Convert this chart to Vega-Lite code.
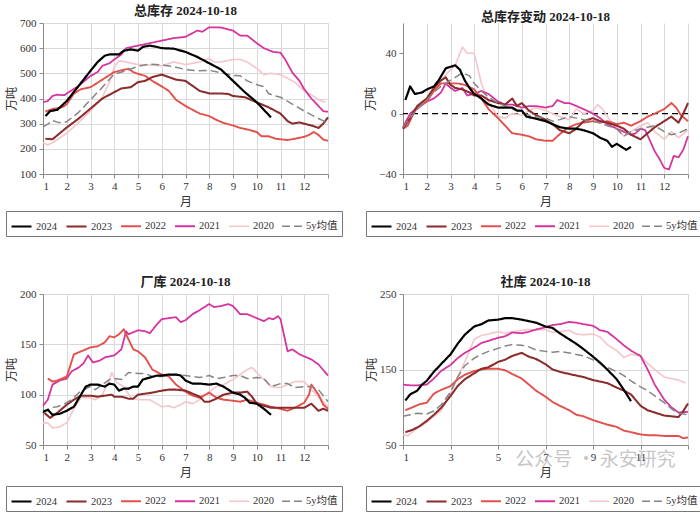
{
"$schema":"https://vega.github.io/schema/vega-lite/v6.json",
"background":"white",
"padding":{"left":5,"top":5,"right":5,"bottom":5},
"columns":2,
"bounds":"flush",
"spacing":{"row":120,"column":75},
"resolve":{"scale":{"color":"independent","strokeDash":"independent","strokeWidth":"independent","x":"independent","y":"independent"},"legend":{"color":"independent","strokeDash":"independent","strokeWidth":"independent"}},
"config":{
"font":"Liberation Serif, Noto Sans CJK SC",
"view":{"stroke":null},
"axis":{"gridColor":"#d9d9d9","domainColor":"#8a8a8a","tickColor":"#8a8a8a","tickSize":4,"labelFont":"Liberation Serif","labelFontSize":11,"labelColor":"#333","titleFont":"Liberation Serif, Noto Sans CJK SC","titleFontWeight":"normal","titleFontSize":12,"titleColor":"#333"},
"axisX":{"labelPadding":2,"titlePadding":5},
"axisY":{"titlePadding":1,"labelPadding":3},
"title":{"font":"Liberation Serif, Noto Sans CJK SC","fontSize":13,"fontWeight":"bold","offset":-1,"color":"#222"},
"legend":{"symbolType":"stroke","symbolSize":400,"labelFont":"Liberation Serif, Noto Sans CJK SC","labelFontSize":10.5,"labelColor":"#333","labelOffset":3,"columnPadding":5,"strokeColor":"#777","padding":4}
},
"datasets":{
"p1":[
{"m":1.0,"s":"2020","v":225},{"m":1.2,"s":"2020","v":215},{"m":1.5,"s":"2020","v":230},{"m":2.0,"s":"2020","v":262},{"m":2.5,"s":"2020","v":305},{"m":3.0,"s":"2020","v":350},{"m":3.5,"s":"2020","v":405},{"m":3.8,"s":"2020","v":465},{"m":4.0,"s":"2020","v":525},{"m":4.2,"s":"2020","v":550},{"m":4.5,"s":"2020","v":545},{"m":5.0,"s":"2020","v":535},{"m":5.5,"s":"2020","v":533},{"m":6.0,"s":"2020","v":530},{"m":6.5,"s":"2020","v":545},{"m":7.0,"s":"2020","v":535},{"m":7.3,"s":"2020","v":540},{"m":7.6,"s":"2020","v":545},{"m":8.0,"s":"2020","v":560},{"m":8.2,"s":"2020","v":545},{"m":8.5,"s":"2020","v":545},{"m":9.0,"s":"2020","v":555},{"m":9.3,"s":"2020","v":555},{"m":9.6,"s":"2020","v":545},{"m":10.0,"s":"2020","v":520},{"m":10.3,"s":"2020","v":495},{"m":10.6,"s":"2020","v":500},{"m":11.0,"s":"2020","v":495},{"m":11.3,"s":"2020","v":480},{"m":11.6,"s":"2020","v":465},{"m":12.0,"s":"2020","v":430},{"m":12.3,"s":"2020","v":415},{"m":12.6,"s":"2020","v":395},{"m":12.9,"s":"2020","v":385},
{"m":1.0,"s":"2021","v":385},{"m":1.2,"s":"2021","v":390},{"m":1.4,"s":"2021","v":410},{"m":1.6,"s":"2021","v":415},{"m":1.9,"s":"2021","v":413},{"m":2.0,"s":"2021","v":420},{"m":2.5,"s":"2021","v":450},{"m":3.0,"s":"2021","v":490},{"m":3.3,"s":"2021","v":505},{"m":3.5,"s":"2021","v":530},{"m":3.8,"s":"2021","v":540},{"m":4.0,"s":"2021","v":555},{"m":4.3,"s":"2021","v":575},{"m":4.5,"s":"2021","v":600},{"m":5.0,"s":"2021","v":610},{"m":5.5,"s":"2021","v":620},{"m":6.0,"s":"2021","v":630},{"m":6.5,"s":"2021","v":640},{"m":7.0,"s":"2021","v":645},{"m":7.5,"s":"2021","v":670},{"m":7.7,"s":"2021","v":665},{"m":8.0,"s":"2021","v":683},{"m":8.5,"s":"2021","v":682},{"m":9.0,"s":"2021","v":670},{"m":9.3,"s":"2021","v":650},{"m":9.6,"s":"2021","v":650},{"m":10.0,"s":"2021","v":620},{"m":10.3,"s":"2021","v":600},{"m":10.7,"s":"2021","v":585},{"m":11.0,"s":"2021","v":582},{"m":11.2,"s":"2021","v":555},{"m":11.5,"s":"2021","v":503},{"m":11.8,"s":"2021","v":470},{"m":12.0,"s":"2021","v":437},{"m":12.3,"s":"2021","v":400},{"m":12.6,"s":"2021","v":370},{"m":12.8,"s":"2021","v":350},{"m":13.0,"s":"2021","v":347},
{"m":1.1,"s":"2022","v":348},{"m":1.4,"s":"2022","v":358},{"m":1.8,"s":"2022","v":365},{"m":2.0,"s":"2022","v":377},{"m":2.3,"s":"2022","v":420},{"m":2.6,"s":"2022","v":437},{"m":3.0,"s":"2022","v":445},{"m":3.5,"s":"2022","v":475},{"m":4.0,"s":"2022","v":505},{"m":4.3,"s":"2022","v":512},{"m":4.6,"s":"2022","v":518},{"m":4.8,"s":"2022","v":505},{"m":5.0,"s":"2022","v":498},{"m":5.3,"s":"2022","v":490},{"m":5.6,"s":"2022","v":470},{"m":6.0,"s":"2022","v":448},{"m":6.3,"s":"2022","v":430},{"m":6.6,"s":"2022","v":395},{"m":7.0,"s":"2022","v":370},{"m":7.3,"s":"2022","v":355},{"m":7.6,"s":"2022","v":340},{"m":8.0,"s":"2022","v":330},{"m":8.3,"s":"2022","v":315},{"m":8.6,"s":"2022","v":303},{"m":9.0,"s":"2022","v":293},{"m":9.3,"s":"2022","v":283},{"m":9.6,"s":"2022","v":277},{"m":10.0,"s":"2022","v":267},{"m":10.2,"s":"2022","v":250},{"m":10.5,"s":"2022","v":250},{"m":10.8,"s":"2022","v":240},{"m":11.0,"s":"2022","v":238},{"m":11.3,"s":"2022","v":235},{"m":11.6,"s":"2022","v":240},{"m":12.0,"s":"2022","v":248},{"m":12.2,"s":"2022","v":255},{"m":12.4,"s":"2022","v":267},{"m":12.6,"s":"2022","v":255},{"m":12.8,"s":"2022","v":237},{"m":13.0,"s":"2022","v":232},
{"m":1.1,"s":"2023","v":240},{"m":1.4,"s":"2023","v":238},{"m":2.0,"s":"2023","v":285},{"m":2.5,"s":"2023","v":320},{"m":3.0,"s":"2023","v":360},{"m":3.5,"s":"2023","v":400},{"m":4.0,"s":"2023","v":425},{"m":4.3,"s":"2023","v":440},{"m":4.7,"s":"2023","v":445},{"m":5.0,"s":"2023","v":465},{"m":5.3,"s":"2023","v":470},{"m":5.6,"s":"2023","v":485},{"m":6.0,"s":"2023","v":495},{"m":6.3,"s":"2023","v":485},{"m":6.6,"s":"2023","v":475},{"m":7.0,"s":"2023","v":470},{"m":7.3,"s":"2023","v":450},{"m":7.6,"s":"2023","v":430},{"m":8.0,"s":"2023","v":420},{"m":8.5,"s":"2023","v":420},{"m":8.8,"s":"2023","v":418},{"m":9.0,"s":"2023","v":410},{"m":9.5,"s":"2023","v":405},{"m":10.0,"s":"2023","v":385},{"m":10.5,"s":"2023","v":365},{"m":11.0,"s":"2023","v":340},{"m":11.3,"s":"2023","v":310},{"m":11.5,"s":"2023","v":300},{"m":11.8,"s":"2023","v":305},{"m":12.0,"s":"2023","v":300},{"m":12.3,"s":"2023","v":293},{"m":12.6,"s":"2023","v":283},{"m":12.8,"s":"2023","v":300},{"m":13.0,"s":"2023","v":325},
{"m":1.0,"s":"5y均值","v":287},{"m":1.2,"s":"5y均值","v":298},{"m":1.4,"s":"5y均值","v":312},{"m":1.6,"s":"5y均值","v":306},{"m":1.8,"s":"5y均值","v":303},{"m":2.0,"s":"5y均值","v":308},{"m":2.5,"s":"5y均值","v":345},{"m":3.0,"s":"5y均值","v":395},{"m":3.5,"s":"5y均值","v":445},{"m":4.0,"s":"5y均值","v":497},{"m":4.5,"s":"5y均值","v":510},{"m":5.0,"s":"5y均值","v":528},{"m":5.5,"s":"5y均值","v":537},{"m":6.0,"s":"5y均值","v":533},{"m":6.5,"s":"5y均值","v":527},{"m":7.0,"s":"5y均值","v":515},{"m":7.5,"s":"5y均值","v":510},{"m":8.0,"s":"5y均值","v":512},{"m":8.5,"s":"5y均值","v":502},{"m":9.0,"s":"5y均值","v":492},{"m":9.3,"s":"5y均值","v":490},{"m":9.6,"s":"5y均值","v":470},{"m":10.0,"s":"5y均值","v":455},{"m":10.3,"s":"5y均值","v":447},{"m":10.5,"s":"5y均值","v":420},{"m":10.7,"s":"5y均值","v":412},{"m":11.0,"s":"5y均值","v":405},{"m":11.5,"s":"5y均值","v":378},{"m":12.0,"s":"5y均值","v":350},{"m":12.5,"s":"5y均值","v":325},{"m":13.0,"s":"5y均值","v":303},
{"m":1.1,"s":"2024","v":330},{"m":1.3,"s":"2024","v":350},{"m":1.6,"s":"2024","v":355},{"m":2.0,"s":"2024","v":390},{"m":2.5,"s":"2024","v":450},{"m":3.0,"s":"2024","v":510},{"m":3.3,"s":"2024","v":545},{"m":3.6,"s":"2024","v":570},{"m":3.8,"s":"2024","v":575},{"m":4.0,"s":"2024","v":575},{"m":4.2,"s":"2024","v":575},{"m":4.4,"s":"2024","v":590},{"m":4.7,"s":"2024","v":595},{"m":5.0,"s":"2024","v":590},{"m":5.2,"s":"2024","v":605},{"m":5.5,"s":"2024","v":610},{"m":5.8,"s":"2024","v":605},{"m":6.0,"s":"2024","v":600},{"m":6.5,"s":"2024","v":598},{"m":7.0,"s":"2024","v":585},{"m":7.5,"s":"2024","v":565},{"m":8.0,"s":"2024","v":540},{"m":8.5,"s":"2024","v":515},{"m":9.0,"s":"2024","v":470},{"m":9.5,"s":"2024","v":425},{"m":10.0,"s":"2024","v":385},{"m":10.3,"s":"2024","v":355},{"m":10.6,"s":"2024","v":325}
],
"p2":[
{"m":1.0,"s":"2020","v":-10},{"m":1.3,"s":"2020","v":-2},{"m":1.6,"s":"2020","v":5},{"m":2.0,"s":"2020","v":10},{"m":2.3,"s":"2020","v":15},{"m":2.6,"s":"2020","v":22},{"m":2.8,"s":"2020","v":26},{"m":3.0,"s":"2020","v":29},{"m":3.2,"s":"2020","v":32},{"m":3.4,"s":"2020","v":40},{"m":3.5,"s":"2020","v":44},{"m":3.7,"s":"2020","v":40},{"m":4.0,"s":"2020","v":40},{"m":4.3,"s":"2020","v":20},{"m":4.6,"s":"2020","v":8},{"m":5.0,"s":"2020","v":-2},{"m":5.3,"s":"2020","v":-3},{"m":5.6,"s":"2020","v":0},{"m":6.0,"s":"2020","v":-1},{"m":6.3,"s":"2020","v":2},{"m":6.6,"s":"2020","v":4},{"m":7.0,"s":"2020","v":2},{"m":7.3,"s":"2020","v":0},{"m":7.6,"s":"2020","v":-2},{"m":8.0,"s":"2020","v":-4},{"m":8.3,"s":"2020","v":3},{"m":8.6,"s":"2020","v":0},{"m":9.0,"s":"2020","v":2},{"m":9.2,"s":"2020","v":6},{"m":9.4,"s":"2020","v":3},{"m":9.7,"s":"2020","v":-4},{"m":10.0,"s":"2020","v":-10},{"m":10.3,"s":"2020","v":-15},{"m":10.6,"s":"2020","v":-12},{"m":11.0,"s":"2020","v":-8},{"m":11.3,"s":"2020","v":-6},{"m":11.6,"s":"2020","v":-12},{"m":12.0,"s":"2020","v":-17},{"m":12.3,"s":"2020","v":-12},{"m":12.6,"s":"2020","v":-16},{"m":13.0,"s":"2020","v":-11},
{"m":1.0,"s":"2021","v":-9},{"m":1.3,"s":"2021","v":0},{"m":1.6,"s":"2021","v":4},{"m":2.0,"s":"2021","v":8},{"m":2.3,"s":"2021","v":10},{"m":2.6,"s":"2021","v":14},{"m":2.8,"s":"2021","v":20},{"m":3.0,"s":"2021","v":17},{"m":3.2,"s":"2021","v":15},{"m":3.5,"s":"2021","v":17},{"m":3.7,"s":"2021","v":12},{"m":4.0,"s":"2021","v":13},{"m":4.3,"s":"2021","v":15},{"m":4.6,"s":"2021","v":13},{"m":5.0,"s":"2021","v":8},{"m":5.3,"s":"2021","v":6},{"m":5.6,"s":"2021","v":6},{"m":6.0,"s":"2021","v":4},{"m":6.3,"s":"2021","v":5},{"m":6.6,"s":"2021","v":5},{"m":7.0,"s":"2021","v":4},{"m":7.3,"s":"2021","v":5},{"m":7.5,"s":"2021","v":9},{"m":7.8,"s":"2021","v":7},{"m":8.0,"s":"2021","v":7},{"m":8.3,"s":"2021","v":5},{"m":8.6,"s":"2021","v":3},{"m":9.0,"s":"2021","v":0},{"m":9.3,"s":"2021","v":-3},{"m":9.6,"s":"2021","v":-7},{"m":10.0,"s":"2021","v":-10},{"m":10.3,"s":"2021","v":-12},{"m":10.6,"s":"2021","v":-14},{"m":10.8,"s":"2021","v":-13},{"m":11.0,"s":"2021","v":-10},{"m":11.2,"s":"2021","v":-11},{"m":11.4,"s":"2021","v":-18},{"m":11.6,"s":"2021","v":-25},{"m":11.8,"s":"2021","v":-30},{"m":12.0,"s":"2021","v":-36},{"m":12.2,"s":"2021","v":-37},{"m":12.4,"s":"2021","v":-28},{"m":12.6,"s":"2021","v":-29},{"m":12.8,"s":"2021","v":-24},{"m":13.0,"s":"2021","v":-15},
{"m":1.0,"s":"2022","v":-10},{"m":1.2,"s":"2022","v":-8},{"m":1.5,"s":"2022","v":2},{"m":2.0,"s":"2022","v":8},{"m":2.3,"s":"2022","v":15},{"m":2.6,"s":"2022","v":20},{"m":3.0,"s":"2022","v":20},{"m":3.3,"s":"2022","v":20},{"m":3.6,"s":"2022","v":19},{"m":4.0,"s":"2022","v":16},{"m":4.3,"s":"2022","v":10},{"m":4.6,"s":"2022","v":3},{"m":5.0,"s":"2022","v":-3},{"m":5.3,"s":"2022","v":-8},{"m":5.6,"s":"2022","v":-13},{"m":6.0,"s":"2022","v":-14},{"m":6.3,"s":"2022","v":-15},{"m":6.6,"s":"2022","v":-17},{"m":7.0,"s":"2022","v":-18},{"m":7.3,"s":"2022","v":-18},{"m":7.5,"s":"2022","v":-15},{"m":7.8,"s":"2022","v":-11},{"m":8.0,"s":"2022","v":-9},{"m":8.3,"s":"2022","v":-7},{"m":8.6,"s":"2022","v":-6},{"m":9.0,"s":"2022","v":-5},{"m":9.3,"s":"2022","v":-6},{"m":9.6,"s":"2022","v":-5},{"m":10.0,"s":"2022","v":-7},{"m":10.3,"s":"2022","v":-6},{"m":10.6,"s":"2022","v":-8},{"m":11.0,"s":"2022","v":-5},{"m":11.3,"s":"2022","v":-2},{"m":11.6,"s":"2022","v":0},{"m":12.0,"s":"2022","v":3},{"m":12.3,"s":"2022","v":7},{"m":12.5,"s":"2022","v":4},{"m":12.7,"s":"2022","v":-1},{"m":13.0,"s":"2022","v":-5},
{"m":1.0,"s":"2023","v":-10},{"m":1.3,"s":"2023","v":-3},{"m":1.6,"s":"2023","v":5},{"m":2.0,"s":"2023","v":10},{"m":2.3,"s":"2023","v":17},{"m":2.6,"s":"2023","v":22},{"m":2.8,"s":"2023","v":24},{"m":3.0,"s":"2023","v":19},{"m":3.2,"s":"2023","v":17},{"m":3.5,"s":"2023","v":16},{"m":3.8,"s":"2023","v":14},{"m":4.0,"s":"2023","v":12},{"m":4.3,"s":"2023","v":12},{"m":4.6,"s":"2023","v":9},{"m":5.0,"s":"2023","v":7},{"m":5.3,"s":"2023","v":6},{"m":5.6,"s":"2023","v":10},{"m":5.8,"s":"2023","v":5},{"m":6.0,"s":"2023","v":7},{"m":6.3,"s":"2023","v":2},{"m":6.6,"s":"2023","v":-1},{"m":7.0,"s":"2023","v":-4},{"m":7.3,"s":"2023","v":-7},{"m":7.6,"s":"2023","v":-11},{"m":8.0,"s":"2023","v":-13},{"m":8.3,"s":"2023","v":-10},{"m":8.6,"s":"2023","v":-5},{"m":9.0,"s":"2023","v":-3},{"m":9.3,"s":"2023","v":-5},{"m":9.6,"s":"2023","v":-6},{"m":10.0,"s":"2023","v":-8},{"m":10.3,"s":"2023","v":-10},{"m":10.6,"s":"2023","v":-14},{"m":11.0,"s":"2023","v":-17},{"m":11.3,"s":"2023","v":-13},{"m":11.6,"s":"2023","v":-9},{"m":12.0,"s":"2023","v":-5},{"m":12.3,"s":"2023","v":-2},{"m":12.6,"s":"2023","v":-6},{"m":12.8,"s":"2023","v":0},{"m":13.0,"s":"2023","v":7},
{"m":1.0,"s":"5y均值","v":-9},{"m":1.3,"s":"5y均值","v":-3},{"m":1.6,"s":"5y均值","v":3},{"m":2.0,"s":"5y均值","v":9},{"m":2.3,"s":"5y均值","v":14},{"m":2.6,"s":"5y均值","v":18},{"m":3.0,"s":"5y均值","v":22},{"m":3.3,"s":"5y均值","v":25},{"m":3.5,"s":"5y均值","v":27},{"m":3.8,"s":"5y均值","v":25},{"m":4.0,"s":"5y均值","v":20},{"m":4.3,"s":"5y均值","v":15},{"m":4.6,"s":"5y均值","v":11},{"m":5.0,"s":"5y均值","v":7},{"m":5.3,"s":"5y均值","v":5},{"m":5.6,"s":"5y均值","v":3},{"m":6.0,"s":"5y均值","v":1},{"m":6.3,"s":"5y均值","v":-1},{"m":6.6,"s":"5y均值","v":-2},{"m":7.0,"s":"5y均值","v":-3},{"m":7.3,"s":"5y均值","v":-5},{"m":7.6,"s":"5y均值","v":-4},{"m":8.0,"s":"5y均值","v":-2},{"m":8.3,"s":"5y均值","v":-3},{"m":8.6,"s":"5y均值","v":-4},{"m":9.0,"s":"5y均值","v":-5},{"m":9.3,"s":"5y均值","v":-6},{"m":9.6,"s":"5y均值","v":-8},{"m":10.0,"s":"5y均值","v":-10},{"m":10.3,"s":"5y均值","v":-15},{"m":10.6,"s":"5y均值","v":-12},{"m":11.0,"s":"5y均值","v":-10},{"m":11.3,"s":"5y均值","v":-9},{"m":11.6,"s":"5y均值","v":-8},{"m":12.0,"s":"5y均值","v":-12},{"m":12.3,"s":"5y均值","v":-14},{"m":12.6,"s":"5y均值","v":-13},{"m":13.0,"s":"5y均值","v":-10},
{"m":1.1,"s":"2024","v":9},{"m":1.3,"s":"2024","v":18},{"m":1.5,"s":"2024","v":13},{"m":1.8,"s":"2024","v":14},{"m":2.0,"s":"2024","v":16},{"m":2.3,"s":"2024","v":18},{"m":2.5,"s":"2024","v":22},{"m":2.8,"s":"2024","v":30},{"m":3.0,"s":"2024","v":31},{"m":3.2,"s":"2024","v":32},{"m":3.4,"s":"2024","v":29},{"m":3.6,"s":"2024","v":22},{"m":3.8,"s":"2024","v":17},{"m":4.0,"s":"2024","v":13},{"m":4.3,"s":"2024","v":10},{"m":4.6,"s":"2024","v":6},{"m":5.0,"s":"2024","v":4},{"m":5.3,"s":"2024","v":4},{"m":5.6,"s":"2024","v":4},{"m":5.8,"s":"2024","v":2},{"m":6.0,"s":"2024","v":2},{"m":6.2,"s":"2024","v":-2},{"m":6.5,"s":"2024","v":-3},{"m":7.0,"s":"2024","v":-5},{"m":7.3,"s":"2024","v":-7},{"m":7.6,"s":"2024","v":-9},{"m":8.0,"s":"2024","v":-10},{"m":8.3,"s":"2024","v":-10},{"m":8.6,"s":"2024","v":-11},{"m":9.0,"s":"2024","v":-13},{"m":9.3,"s":"2024","v":-16},{"m":9.6,"s":"2024","v":-18},{"m":9.8,"s":"2024","v":-22},{"m":10.0,"s":"2024","v":-20},{"m":10.2,"s":"2024","v":-22},{"m":10.4,"s":"2024","v":-24},{"m":10.6,"s":"2024","v":-22}
],
"p3":[
{"m":1.0,"s":"2020","v":72},{"m":1.2,"s":"2020","v":72},{"m":1.4,"s":"2020","v":67},{"m":1.7,"s":"2020","v":68},{"m":2.0,"s":"2020","v":72},{"m":2.3,"s":"2020","v":86},{"m":2.6,"s":"2020","v":97},{"m":3.0,"s":"2020","v":97},{"m":3.2,"s":"2020","v":95},{"m":3.5,"s":"2020","v":100},{"m":3.8,"s":"2020","v":115},{"m":3.9,"s":"2020","v":122},{"m":4.1,"s":"2020","v":112},{"m":4.4,"s":"2020","v":108},{"m":4.7,"s":"2020","v":97},{"m":5.0,"s":"2020","v":95},{"m":5.5,"s":"2020","v":95},{"m":6.0,"s":"2020","v":88},{"m":6.3,"s":"2020","v":89},{"m":6.5,"s":"2020","v":87},{"m":6.8,"s":"2020","v":90},{"m":7.0,"s":"2020","v":93},{"m":7.3,"s":"2020","v":91},{"m":7.6,"s":"2020","v":95},{"m":8.0,"s":"2020","v":103},{"m":8.3,"s":"2020","v":108},{"m":8.6,"s":"2020","v":110},{"m":9.0,"s":"2020","v":115},{"m":9.3,"s":"2020","v":120},{"m":9.6,"s":"2020","v":125},{"m":9.8,"s":"2020","v":127},{"m":10.0,"s":"2020","v":122},{"m":10.3,"s":"2020","v":115},{"m":10.6,"s":"2020","v":108},{"m":11.0,"s":"2020","v":107},{"m":11.3,"s":"2020","v":110},{"m":11.6,"s":"2020","v":113},{"m":12.0,"s":"2020","v":113},{"m":12.3,"s":"2020","v":105},{"m":12.6,"s":"2020","v":98},{"m":13.0,"s":"2020","v":88},
{"m":1.0,"s":"2021","v":89},{"m":1.2,"s":"2021","v":95},{"m":1.4,"s":"2021","v":110},{"m":1.7,"s":"2021","v":114},{"m":2.0,"s":"2021","v":116},{"m":2.2,"s":"2021","v":123},{"m":2.5,"s":"2021","v":127},{"m":2.7,"s":"2021","v":131},{"m":2.9,"s":"2021","v":139},{"m":3.1,"s":"2021","v":132},{"m":3.4,"s":"2021","v":134},{"m":3.6,"s":"2021","v":137},{"m":4.0,"s":"2021","v":139},{"m":4.3,"s":"2021","v":145},{"m":4.5,"s":"2021","v":163},{"m":4.6,"s":"2021","v":160},{"m":5.0,"s":"2021","v":164},{"m":5.3,"s":"2021","v":163},{"m":5.5,"s":"2021","v":161},{"m":5.8,"s":"2021","v":170},{"m":6.0,"s":"2021","v":175},{"m":6.3,"s":"2021","v":176},{"m":6.6,"s":"2021","v":177},{"m":6.8,"s":"2021","v":172},{"m":7.0,"s":"2021","v":174},{"m":7.3,"s":"2021","v":180},{"m":7.6,"s":"2021","v":184},{"m":8.0,"s":"2021","v":190},{"m":8.2,"s":"2021","v":187},{"m":8.5,"s":"2021","v":188},{"m":8.8,"s":"2021","v":190},{"m":9.0,"s":"2021","v":188},{"m":9.3,"s":"2021","v":180},{"m":9.6,"s":"2021","v":180},{"m":10.0,"s":"2021","v":176},{"m":10.3,"s":"2021","v":173},{"m":10.5,"s":"2021","v":176},{"m":10.7,"s":"2021","v":175},{"m":10.9,"s":"2021","v":178},{"m":11.0,"s":"2021","v":175},{"m":11.3,"s":"2021","v":143},{"m":11.5,"s":"2021","v":145},{"m":11.8,"s":"2021","v":140},{"m":12.0,"s":"2021","v":138},{"m":12.3,"s":"2021","v":135},{"m":12.6,"s":"2021","v":130},{"m":13.0,"s":"2021","v":119},
{"m":1.2,"s":"2022","v":116},{"m":1.4,"s":"2022","v":113},{"m":1.6,"s":"2022","v":114},{"m":2.0,"s":"2022","v":118},{"m":2.3,"s":"2022","v":140},{"m":2.6,"s":"2022","v":143},{"m":3.0,"s":"2022","v":147},{"m":3.3,"s":"2022","v":148},{"m":3.6,"s":"2022","v":152},{"m":3.8,"s":"2022","v":158},{"m":4.0,"s":"2022","v":157},{"m":4.2,"s":"2022","v":160},{"m":4.4,"s":"2022","v":165},{"m":4.6,"s":"2022","v":155},{"m":4.8,"s":"2022","v":145},{"m":5.0,"s":"2022","v":143},{"m":5.3,"s":"2022","v":137},{"m":5.6,"s":"2022","v":125},{"m":6.0,"s":"2022","v":120},{"m":6.3,"s":"2022","v":118},{"m":6.6,"s":"2022","v":110},{"m":7.0,"s":"2022","v":103},{"m":7.3,"s":"2022","v":99},{"m":7.6,"s":"2022","v":97},{"m":8.0,"s":"2022","v":102},{"m":8.3,"s":"2022","v":97},{"m":8.6,"s":"2022","v":95},{"m":9.0,"s":"2022","v":94},{"m":9.3,"s":"2022","v":93},{"m":9.6,"s":"2022","v":95},{"m":10.0,"s":"2022","v":92},{"m":10.3,"s":"2022","v":90},{"m":10.6,"s":"2022","v":88},{"m":11.0,"s":"2022","v":86},{"m":11.3,"s":"2022","v":84},{"m":11.6,"s":"2022","v":87},{"m":12.0,"s":"2022","v":92},{"m":12.2,"s":"2022","v":100},{"m":12.3,"s":"2022","v":110},{"m":12.6,"s":"2022","v":100},{"m":12.8,"s":"2022","v":90},{"m":13.0,"s":"2022","v":86},
{"m":1.0,"s":"2023","v":83},{"m":1.3,"s":"2023","v":77},{"m":1.6,"s":"2023","v":82},{"m":2.0,"s":"2023","v":90},{"m":2.3,"s":"2023","v":95},{"m":2.6,"s":"2023","v":99},{"m":3.0,"s":"2023","v":99},{"m":3.3,"s":"2023","v":98},{"m":3.6,"s":"2023","v":99},{"m":3.9,"s":"2023","v":100},{"m":4.0,"s":"2023","v":98},{"m":4.3,"s":"2023","v":98},{"m":4.6,"s":"2023","v":96},{"m":4.8,"s":"2023","v":96},{"m":5.0,"s":"2023","v":100},{"m":5.3,"s":"2023","v":101},{"m":5.6,"s":"2023","v":102},{"m":6.0,"s":"2023","v":104},{"m":6.3,"s":"2023","v":105},{"m":6.6,"s":"2023","v":105},{"m":7.0,"s":"2023","v":104},{"m":7.3,"s":"2023","v":101},{"m":7.6,"s":"2023","v":98},{"m":7.8,"s":"2023","v":93},{"m":8.0,"s":"2023","v":93},{"m":8.3,"s":"2023","v":96},{"m":8.6,"s":"2023","v":100},{"m":9.0,"s":"2023","v":102},{"m":9.3,"s":"2023","v":102},{"m":9.6,"s":"2023","v":103},{"m":9.8,"s":"2023","v":98},{"m":10.0,"s":"2023","v":91},{"m":10.3,"s":"2023","v":89},{"m":10.6,"s":"2023","v":87},{"m":11.0,"s":"2023","v":87},{"m":11.3,"s":"2023","v":87},{"m":11.6,"s":"2023","v":87},{"m":12.0,"s":"2023","v":87},{"m":12.3,"s":"2023","v":91},{"m":12.6,"s":"2023","v":84},{"m":12.8,"s":"2023","v":86},{"m":13.0,"s":"2023","v":84},
{"m":1.0,"s":"5y均值","v":81},{"m":1.3,"s":"5y均值","v":87},{"m":1.6,"s":"5y均值","v":88},{"m":2.0,"s":"5y均值","v":92},{"m":2.3,"s":"5y均值","v":97},{"m":2.6,"s":"5y均值","v":104},{"m":3.0,"s":"5y均值","v":108},{"m":3.2,"s":"5y均值","v":105},{"m":3.5,"s":"5y均值","v":110},{"m":3.8,"s":"5y均值","v":115},{"m":4.0,"s":"5y均值","v":116},{"m":4.3,"s":"5y均值","v":115},{"m":4.6,"s":"5y均值","v":122},{"m":5.0,"s":"5y均值","v":121},{"m":5.3,"s":"5y均值","v":121},{"m":5.6,"s":"5y均值","v":118},{"m":6.0,"s":"5y均值","v":118},{"m":6.3,"s":"5y均值","v":119},{"m":6.6,"s":"5y均值","v":120},{"m":7.0,"s":"5y均值","v":119},{"m":7.3,"s":"5y均值","v":118},{"m":7.6,"s":"5y均值","v":117},{"m":8.0,"s":"5y均值","v":119},{"m":8.3,"s":"5y均值","v":116},{"m":8.6,"s":"5y均值","v":117},{"m":9.0,"s":"5y均值","v":119},{"m":9.3,"s":"5y均值","v":119},{"m":9.6,"s":"5y均值","v":116},{"m":10.0,"s":"5y均值","v":117},{"m":10.3,"s":"5y均值","v":116},{"m":10.6,"s":"5y均值","v":108},{"m":11.0,"s":"5y均值","v":111},{"m":11.3,"s":"5y均值","v":111},{"m":11.6,"s":"5y均值","v":107},{"m":12.0,"s":"5y均值","v":108},{"m":12.3,"s":"5y均值","v":108},{"m":12.6,"s":"5y均值","v":105},{"m":13.0,"s":"5y均值","v":93},
{"m":1.0,"s":"2024","v":83},{"m":1.2,"s":"2024","v":85},{"m":1.4,"s":"2024","v":80},{"m":1.7,"s":"2024","v":81},{"m":2.0,"s":"2024","v":84},{"m":2.3,"s":"2024","v":88},{"m":2.6,"s":"2024","v":100},{"m":2.8,"s":"2024","v":108},{"m":3.0,"s":"2024","v":110},{"m":3.3,"s":"2024","v":110},{"m":3.6,"s":"2024","v":108},{"m":3.8,"s":"2024","v":111},{"m":4.0,"s":"2024","v":110},{"m":4.2,"s":"2024","v":104},{"m":4.4,"s":"2024","v":106},{"m":4.6,"s":"2024","v":106},{"m":4.8,"s":"2024","v":108},{"m":5.0,"s":"2024","v":108},{"m":5.2,"s":"2024","v":115},{"m":5.5,"s":"2024","v":117},{"m":5.8,"s":"2024","v":119},{"m":6.0,"s":"2024","v":119},{"m":6.3,"s":"2024","v":120},{"m":6.6,"s":"2024","v":120},{"m":6.8,"s":"2024","v":119},{"m":7.0,"s":"2024","v":114},{"m":7.3,"s":"2024","v":111},{"m":7.6,"s":"2024","v":111},{"m":8.0,"s":"2024","v":110},{"m":8.3,"s":"2024","v":111},{"m":8.6,"s":"2024","v":108},{"m":9.0,"s":"2024","v":102},{"m":9.3,"s":"2024","v":100},{"m":9.5,"s":"2024","v":97},{"m":9.7,"s":"2024","v":92},{"m":10.0,"s":"2024","v":91},{"m":10.3,"s":"2024","v":86},{"m":10.6,"s":"2024","v":80}
],
"p4":[
{"m":1.0,"s":"2020","v":64},{"m":1.2,"s":"2020","v":62},{"m":1.5,"s":"2020","v":70},{"m":2.0,"s":"2020","v":80},{"m":2.3,"s":"2020","v":88},{"m":2.6,"s":"2020","v":95},{"m":3.0,"s":"2020","v":118},{"m":3.3,"s":"2020","v":140},{"m":3.6,"s":"2020","v":160},{"m":3.8,"s":"2020","v":175},{"m":4.0,"s":"2020","v":190},{"m":4.3,"s":"2020","v":195},{"m":4.6,"s":"2020","v":197},{"m":5.0,"s":"2020","v":200},{"m":5.3,"s":"2020","v":198},{"m":5.6,"s":"2020","v":200},{"m":6.0,"s":"2020","v":202},{"m":6.3,"s":"2020","v":203},{"m":6.6,"s":"2020","v":202},{"m":7.0,"s":"2020","v":203},{"m":7.3,"s":"2020","v":199},{"m":7.6,"s":"2020","v":200},{"m":8.0,"s":"2020","v":202},{"m":8.3,"s":"2020","v":197},{"m":8.6,"s":"2020","v":196},{"m":9.0,"s":"2020","v":197},{"m":9.3,"s":"2020","v":193},{"m":9.6,"s":"2020","v":183},{"m":10.0,"s":"2020","v":175},{"m":10.3,"s":"2020","v":166},{"m":10.6,"s":"2020","v":170},{"m":11.0,"s":"2020","v":168},{"m":11.3,"s":"2020","v":158},{"m":11.6,"s":"2020","v":150},{"m":12.0,"s":"2020","v":140},{"m":12.3,"s":"2020","v":138},{"m":12.6,"s":"2020","v":136},{"m":12.9,"s":"2020","v":132},
{"m":1.0,"s":"2021","v":130},{"m":1.3,"s":"2021","v":129},{"m":1.6,"s":"2021","v":129},{"m":2.0,"s":"2021","v":130},{"m":2.3,"s":"2021","v":138},{"m":2.6,"s":"2021","v":148},{"m":3.0,"s":"2021","v":156},{"m":3.3,"s":"2021","v":165},{"m":3.6,"s":"2021","v":172},{"m":4.0,"s":"2021","v":179},{"m":4.3,"s":"2021","v":185},{"m":4.6,"s":"2021","v":188},{"m":5.0,"s":"2021","v":192},{"m":5.3,"s":"2021","v":194},{"m":5.6,"s":"2021","v":199},{"m":6.0,"s":"2021","v":198},{"m":6.3,"s":"2021","v":200},{"m":6.6,"s":"2021","v":203},{"m":7.0,"s":"2021","v":206},{"m":7.3,"s":"2021","v":209},{"m":7.6,"s":"2021","v":210},{"m":8.0,"s":"2021","v":213},{"m":8.3,"s":"2021","v":212},{"m":8.6,"s":"2021","v":210},{"m":9.0,"s":"2021","v":208},{"m":9.3,"s":"2021","v":202},{"m":9.6,"s":"2021","v":200},{"m":10.0,"s":"2021","v":190},{"m":10.3,"s":"2021","v":182},{"m":10.6,"s":"2021","v":175},{"m":11.0,"s":"2021","v":168},{"m":11.3,"s":"2021","v":150},{"m":11.6,"s":"2021","v":130},{"m":12.0,"s":"2021","v":110},{"m":12.3,"s":"2021","v":100},{"m":12.6,"s":"2021","v":93},{"m":13.0,"s":"2021","v":94},
{"m":1.1,"s":"2022","v":96},{"m":1.4,"s":"2022","v":100},{"m":1.7,"s":"2022","v":104},{"m":2.0,"s":"2022","v":106},{"m":2.3,"s":"2022","v":118},{"m":2.6,"s":"2022","v":123},{"m":3.0,"s":"2022","v":128},{"m":3.3,"s":"2022","v":137},{"m":3.6,"s":"2022","v":143},{"m":4.0,"s":"2022","v":148},{"m":4.3,"s":"2022","v":150},{"m":4.6,"s":"2022","v":151},{"m":5.0,"s":"2022","v":151},{"m":5.3,"s":"2022","v":149},{"m":5.6,"s":"2022","v":144},{"m":6.0,"s":"2022","v":138},{"m":6.3,"s":"2022","v":130},{"m":6.6,"s":"2022","v":122},{"m":7.0,"s":"2022","v":114},{"m":7.3,"s":"2022","v":107},{"m":7.6,"s":"2022","v":102},{"m":8.0,"s":"2022","v":96},{"m":8.3,"s":"2022","v":90},{"m":8.6,"s":"2022","v":88},{"m":9.0,"s":"2022","v":83},{"m":9.3,"s":"2022","v":80},{"m":9.6,"s":"2022","v":77},{"m":10.0,"s":"2022","v":74},{"m":10.3,"s":"2022","v":69},{"m":10.6,"s":"2022","v":67},{"m":11.0,"s":"2022","v":64},{"m":11.3,"s":"2022","v":63},{"m":11.6,"s":"2022","v":63},{"m":12.0,"s":"2022","v":62},{"m":12.3,"s":"2022","v":62},{"m":12.6,"s":"2022","v":62},{"m":12.8,"s":"2022","v":59},{"m":13.0,"s":"2022","v":60},
{"m":1.1,"s":"2023","v":67},{"m":1.4,"s":"2023","v":70},{"m":1.7,"s":"2023","v":75},{"m":2.0,"s":"2023","v":82},{"m":2.3,"s":"2023","v":90},{"m":2.6,"s":"2023","v":99},{"m":3.0,"s":"2023","v":115},{"m":3.3,"s":"2023","v":128},{"m":3.6,"s":"2023","v":137},{"m":4.0,"s":"2023","v":145},{"m":4.3,"s":"2023","v":151},{"m":4.6,"s":"2023","v":153},{"m":5.0,"s":"2023","v":160},{"m":5.3,"s":"2023","v":163},{"m":5.6,"s":"2023","v":168},{"m":6.0,"s":"2023","v":172},{"m":6.3,"s":"2023","v":167},{"m":6.6,"s":"2023","v":164},{"m":7.0,"s":"2023","v":157},{"m":7.3,"s":"2023","v":150},{"m":7.6,"s":"2023","v":147},{"m":8.0,"s":"2023","v":144},{"m":8.3,"s":"2023","v":142},{"m":8.6,"s":"2023","v":140},{"m":9.0,"s":"2023","v":136},{"m":9.3,"s":"2023","v":134},{"m":9.6,"s":"2023","v":132},{"m":10.0,"s":"2023","v":126},{"m":10.3,"s":"2023","v":122},{"m":10.6,"s":"2023","v":117},{"m":11.0,"s":"2023","v":102},{"m":11.3,"s":"2023","v":96},{"m":11.6,"s":"2023","v":93},{"m":12.0,"s":"2023","v":89},{"m":12.3,"s":"2023","v":88},{"m":12.6,"s":"2023","v":87},{"m":12.8,"s":"2023","v":95},{"m":13.0,"s":"2023","v":105},
{"m":1.0,"s":"5y均值","v":88},{"m":1.3,"s":"5y均值","v":90},{"m":1.6,"s":"5y均值","v":92},{"m":2.0,"s":"5y均值","v":91},{"m":2.3,"s":"5y均值","v":95},{"m":2.6,"s":"5y均值","v":103},{"m":3.0,"s":"5y均值","v":120},{"m":3.3,"s":"5y均值","v":140},{"m":3.6,"s":"5y均值","v":155},{"m":4.0,"s":"5y均值","v":165},{"m":4.3,"s":"5y均值","v":170},{"m":4.6,"s":"5y均值","v":174},{"m":5.0,"s":"5y均值","v":178},{"m":5.3,"s":"5y均值","v":181},{"m":5.6,"s":"5y均值","v":183},{"m":6.0,"s":"5y均值","v":182},{"m":6.3,"s":"5y均值","v":180},{"m":6.6,"s":"5y均值","v":176},{"m":7.0,"s":"5y均值","v":174},{"m":7.3,"s":"5y均值","v":173},{"m":7.6,"s":"5y均值","v":174},{"m":8.0,"s":"5y均值","v":172},{"m":8.3,"s":"5y均值","v":170},{"m":8.6,"s":"5y均值","v":168},{"m":9.0,"s":"5y均值","v":163},{"m":9.3,"s":"5y均值","v":158},{"m":9.6,"s":"5y均值","v":153},{"m":10.0,"s":"5y均值","v":147},{"m":10.3,"s":"5y均值","v":142},{"m":10.6,"s":"5y均值","v":135},{"m":11.0,"s":"5y均值","v":127},{"m":11.3,"s":"5y均值","v":122},{"m":11.6,"s":"5y均值","v":115},{"m":12.0,"s":"5y均值","v":106},{"m":12.3,"s":"5y均值","v":98},{"m":12.6,"s":"5y均值","v":92},{"m":13.0,"s":"5y均值","v":90},
{"m":1.1,"s":"2024","v":109},{"m":1.3,"s":"2024","v":117},{"m":1.6,"s":"2024","v":122},{"m":1.8,"s":"2024","v":130},{"m":2.0,"s":"2024","v":135},{"m":2.3,"s":"2024","v":147},{"m":2.6,"s":"2024","v":157},{"m":3.0,"s":"2024","v":170},{"m":3.3,"s":"2024","v":184},{"m":3.6,"s":"2024","v":196},{"m":4.0,"s":"2024","v":207},{"m":4.3,"s":"2024","v":210},{"m":4.6,"s":"2024","v":215},{"m":5.0,"s":"2024","v":216},{"m":5.3,"s":"2024","v":218},{"m":5.6,"s":"2024","v":218},{"m":6.0,"s":"2024","v":216},{"m":6.3,"s":"2024","v":214},{"m":6.6,"s":"2024","v":212},{"m":7.0,"s":"2024","v":207},{"m":7.3,"s":"2024","v":205},{"m":7.6,"s":"2024","v":198},{"m":8.0,"s":"2024","v":190},{"m":8.3,"s":"2024","v":184},{"m":8.6,"s":"2024","v":177},{"m":9.0,"s":"2024","v":167},{"m":9.3,"s":"2024","v":159},{"m":9.6,"s":"2024","v":150},{"m":10.0,"s":"2024","v":137},{"m":10.3,"s":"2024","v":123},{"m":10.6,"s":"2024","v":108}
]
},
"concat":[
{"width":285,"height":151,"title":"总库存 2024-10-18","data":{"name":"p1"},
"mark":{"type":"line","strokeJoin":"round"},
"encoding":{
"x":{"field":"m","type":"quantitative","scale":{"domain":[1,13],"nice":false,"zero":false},"axis":{"values":[1,2,3,4,5,6,7,8,9,10,11,12,13],"labelExpr":"datum.value==13?'':datum.label","title":"月"}},
"y":{"field":"v","type":"quantitative","scale":{"domain":[100,700],"nice":false,"zero":false},"axis":{"values":[100,200,300,400,500,600,700],"title":"万吨"}},
"color":{"field":"s","type":"nominal","scale":{"domain":["2024","2023","2022","2021","2020","5y均值"],"range":["#000000","#8c2d2d","#e2514c","#d6339e","#f5c6cc","#858585"]},"legend":{"orient":"none","legendX":-37,"legendY":188,"direction":"horizontal","title":null}},
"strokeDash":{"field":"s","type":"nominal","scale":{"domain":["2024","2023","2022","2021","2020","5y均值"],"range":[[1,0],[1,0],[1,0],[1,0],[1,0],[8,4]]},"legend":{"orient":"none","legendX":-37,"legendY":188,"direction":"horizontal","title":null}},
"strokeWidth":{"field":"s","type":"nominal","scale":{"domain":["2024","2023","2022","2021","2020","5y均值"],"range":[2.2,1.5,1.5,1.5,1.5,3.2]},"legend":{"orient":"none","legendX":-37,"legendY":188,"direction":"horizontal","title":null}}
}},
{"width":285,"height":151,"title":"总库存变动 2024-10-18",
"layer":[
{"data":{"values":[{}]},"mark":{"type":"rule","color":"#000","strokeDash":[6,4],"strokeWidth":1.3},"encoding":{"y":{"datum":0}}},
{"data":{"name":"p2"},"mark":{"type":"line","strokeJoin":"round"},
"encoding":{
"x":{"field":"m","type":"quantitative","scale":{"domain":[1,13],"nice":false,"zero":false},"axis":{"values":[1,2,3,4,5,6,7,8,9,10,11,12,13],"labelExpr":"datum.value==13?'':datum.label","title":"月"}},
"y":{"field":"v","type":"quantitative","scale":{"domain":[-40,60],"nice":false,"zero":false},"axis":{"values":[-40,-20,0,20,40,60],"title":"万吨"}},
"color":{"field":"s","type":"nominal","scale":{"domain":["2024","2023","2022","2021","2020","5y均值"],"range":["#000000","#8c2d2d","#e2514c","#d6339e","#f5c6cc","#858585"]},"legend":{"orient":"none","legendX":-37,"legendY":188,"direction":"horizontal","title":null}},
"strokeDash":{"field":"s","type":"nominal","scale":{"domain":["2024","2023","2022","2021","2020","5y均值"],"range":[[1,0],[1,0],[1,0],[1,0],[1,0],[8,4]]},"legend":{"orient":"none","legendX":-37,"legendY":188,"direction":"horizontal","title":null}},
"strokeWidth":{"field":"s","type":"nominal","scale":{"domain":["2024","2023","2022","2021","2020","5y均值"],"range":[2.2,1.5,1.5,1.5,1.5,3.2]},"legend":{"orient":"none","legendX":-37,"legendY":188,"direction":"horizontal","title":null}}
}}
]},
{"width":285,"height":151,"title":"厂库 2024-10-18","data":{"name":"p3"},
"mark":{"type":"line","strokeJoin":"round"},
"encoding":{
"x":{"field":"m","type":"quantitative","scale":{"domain":[1,13],"nice":false,"zero":false},"axis":{"values":[1,2,3,4,5,6,7,8,9,10,11,12,13],"labelExpr":"datum.value==13?'':datum.label","title":"月"}},
"y":{"field":"v","type":"quantitative","scale":{"domain":[50,200],"nice":false,"zero":false},"axis":{"values":[50,100,150,200],"title":"万吨"}},
"color":{"field":"s","type":"nominal","scale":{"domain":["2024","2023","2022","2021","2020","5y均值"],"range":["#000000","#8c2d2d","#e2514c","#d6339e","#f5c6cc","#858585"]},"legend":{"orient":"none","legendX":-37,"legendY":192,"direction":"horizontal","title":null}},
"strokeDash":{"field":"s","type":"nominal","scale":{"domain":["2024","2023","2022","2021","2020","5y均值"],"range":[[1,0],[1,0],[1,0],[1,0],[1,0],[8,4]]},"legend":{"orient":"none","legendX":-37,"legendY":192,"direction":"horizontal","title":null}},
"strokeWidth":{"field":"s","type":"nominal","scale":{"domain":["2024","2023","2022","2021","2020","5y均值"],"range":[2.2,1.5,1.5,1.5,1.5,3.2]},"legend":{"orient":"none","legendX":-37,"legendY":192,"direction":"horizontal","title":null}}
}},
{"width":285,"height":151,"title":"社库 2024-10-18",
"layer":[
{"data":{"name":"p4"},"mark":{"type":"line","strokeJoin":"round"},
"encoding":{
"x":{"field":"m","type":"quantitative","scale":{"domain":[1,13],"nice":false,"zero":false},"axis":{"values":[1,2,3,4,5,6,7,8,9,10,11,12,13],"labelExpr":"datum.value==13?'':datum.label","title":"月"}},
"y":{"field":"v","type":"quantitative","scale":{"domain":[50,250],"nice":false,"zero":false},"axis":{"values":[50,100,150,200,250],"title":"万吨"}},
"color":{"field":"s","type":"nominal","scale":{"domain":["2024","2023","2022","2021","2020","5y均值"],"range":["#000000","#8c2d2d","#e2514c","#d6339e","#f5c6cc","#858585"]},"legend":{"orient":"none","legendX":-37,"legendY":192,"direction":"horizontal","title":null}},
"strokeDash":{"field":"s","type":"nominal","scale":{"domain":["2024","2023","2022","2021","2020","5y均值"],"range":[[1,0],[1,0],[1,0],[1,0],[1,0],[8,4]]},"legend":{"orient":"none","legendX":-37,"legendY":192,"direction":"horizontal","title":null}},
"strokeWidth":{"field":"s","type":"nominal","scale":{"domain":["2024","2023","2022","2021","2020","5y均值"],"range":[2.2,1.5,1.5,1.5,1.5,3.2]},"legend":{"orient":"none","legendX":-37,"legendY":192,"direction":"horizontal","title":null}}
}},
{"data":{"values":[{}]},"mark":{"type":"text","text":"公众号 · 永安研究","font":"Noto Sans CJK SC","fontSize":19,"color":"#9a9a9a","opacity":0.55},"encoding":{"x":{"datum":9.1},"y":{"datum":30}}}
]}
]
}
